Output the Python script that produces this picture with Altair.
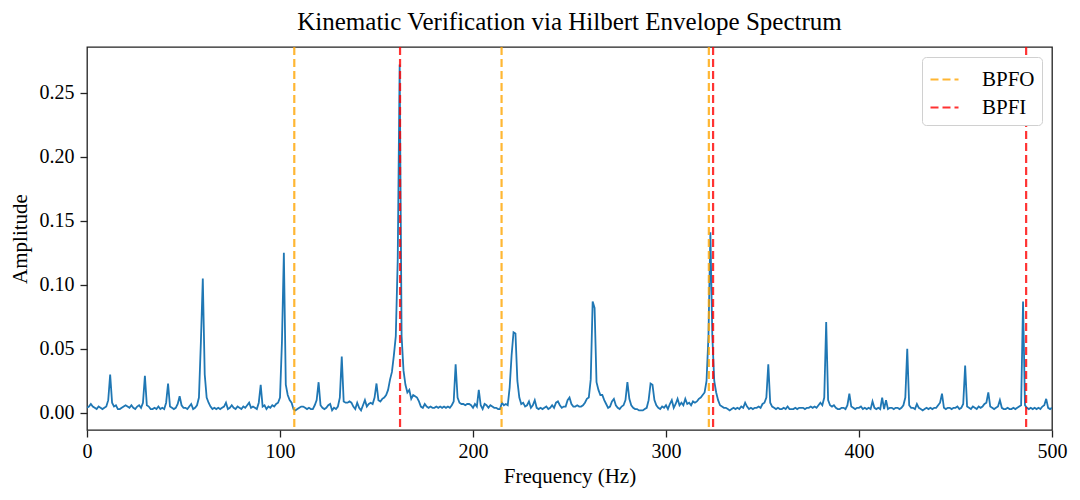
import altair as alt
import pandas as pd

# Envelope spectrum amplitude, 1 Hz bins from 0 to 500 Hz
amp_rows = [
    [0.004, 0.005, 0.007, 0.005, 0.004, 0.003, 0.005, 0.004, 0.003, 0.004],  # 0-9
    [0.005, 0.010, 0.030, 0.008, 0.005, 0.006, 0.003, 0.003, 0.004, 0.005],  # 10
    [0.006, 0.005, 0.004, 0.006, 0.004, 0.003, 0.005, 0.006, 0.004, 0.008],  # 20
    [0.029, 0.006, 0.005, 0.003, 0.003, 0.004, 0.003, 0.005, 0.003, 0.004],  # 30
    [0.003, 0.008, 0.023, 0.005, 0.004, 0.003, 0.004, 0.007, 0.013, 0.006],  # 40
    [0.004, 0.004, 0.003, 0.005, 0.007, 0.003, 0.004, 0.006, 0.012, 0.055],  # 50
    [0.105, 0.030, 0.012, 0.008, 0.005, 0.003, 0.004, 0.003, 0.004, 0.003],  # 60
    [0.004, 0.005, 0.008, 0.003, 0.004, 0.006, 0.004, 0.003, 0.005, 0.004],  # 70
    [0.003, 0.005, 0.004, 0.006, 0.008, 0.004, 0.005, 0.004, 0.003, 0.008],  # 80
    [0.022, 0.005, 0.006, 0.003, 0.005, 0.004, 0.006, 0.005, 0.007, 0.008],  # 90
    [0.012, 0.055, 0.125, 0.022, 0.014, 0.010, 0.008, 0.003, 0.002, 0.003],  # 100
    [0.004, 0.005, 0.005, 0.004, 0.003, 0.004, 0.003, 0.003, 0.006, 0.010],  # 110
    [0.024, 0.006, 0.004, 0.003, 0.004, 0.006, 0.007, 0.002, 0.004, 0.003],  # 120
    [0.005, 0.012, 0.044, 0.009, 0.008, 0.008, 0.009, 0.008, 0.005, 0.003],  # 130
    [0.008, 0.004, 0.002, 0.006, 0.010, 0.005, 0.007, 0.008, 0.007, 0.012],  # 140
    [0.023, 0.010, 0.009, 0.011, 0.012, 0.014, 0.018, 0.026, 0.032, 0.045],  # 150
    [0.060, 0.120, 0.272, 0.060, 0.033, 0.022, 0.016, 0.018, 0.011, 0.014],  # 160
    [0.013, 0.012, 0.009, 0.005, 0.004, 0.007, 0.005, 0.004, 0.005, 0.004],  # 170
    [0.004, 0.005, 0.004, 0.005, 0.004, 0.005, 0.004, 0.005, 0.004, 0.006],  # 180
    [0.009, 0.038, 0.012, 0.008, 0.007, 0.007, 0.006, 0.007, 0.007, 0.006],  # 190
    [0.004, 0.007, 0.005, 0.018, 0.006, 0.003, 0.007, 0.006, 0.004, 0.006],  # 200
    [0.005, 0.004, 0.004, 0.003, 0.003, 0.008, 0.006, 0.007, 0.006, 0.020],  # 210
    [0.045, 0.063, 0.062, 0.025, 0.012, 0.007, 0.008, 0.005, 0.006, 0.009],  # 220
    [0.004, 0.006, 0.010, 0.004, 0.003, 0.004, 0.003, 0.004, 0.005, 0.003],  # 230
    [0.004, 0.006, 0.004, 0.008, 0.009, 0.006, 0.004, 0.005, 0.005, 0.010],  # 240
    [0.012, 0.007, 0.005, 0.005, 0.006, 0.005, 0.005, 0.006, 0.008, 0.011],  # 250
    [0.012, 0.026, 0.087, 0.082, 0.024, 0.018, 0.014, 0.014, 0.010, 0.007],  # 260
    [0.004, 0.005, 0.009, 0.011, 0.006, 0.004, 0.003, 0.005, 0.006, 0.010],  # 270
    [0.024, 0.011, 0.006, 0.004, 0.003, 0.003, 0.002, 0.002, 0.002, 0.003],  # 280
    [0.004, 0.010, 0.023, 0.022, 0.010, 0.006, 0.004, 0.003, 0.005, 0.004],  # 290
    [0.006, 0.003, 0.007, 0.010, 0.004, 0.007, 0.011, 0.006, 0.008, 0.006],  # 300
    [0.011, 0.007, 0.008, 0.006, 0.009, 0.008, 0.009, 0.011, 0.012, 0.014],  # 310
    [0.016, 0.025, 0.060, 0.141, 0.060, 0.025, 0.016, 0.010, 0.006, 0.005],  # 320
    [0.004, 0.004, 0.003, 0.002, 0.003, 0.004, 0.003, 0.004, 0.003, 0.005],  # 330
    [0.004, 0.008, 0.005, 0.003, 0.004, 0.003, 0.004, 0.004, 0.005, 0.004],  # 340
    [0.007, 0.008, 0.012, 0.038, 0.008, 0.005, 0.004, 0.003, 0.004, 0.003],  # 350
    [0.003, 0.004, 0.003, 0.005, 0.003, 0.003, 0.003, 0.004, 0.003, 0.004],  # 360
    [0.004, 0.004, 0.003, 0.004, 0.004, 0.005, 0.004, 0.005, 0.004, 0.006],  # 370
    [0.008, 0.006, 0.012, 0.071, 0.010, 0.006, 0.005, 0.006, 0.004, 0.003],  # 380
    [0.003, 0.004, 0.004, 0.003, 0.006, 0.015, 0.005, 0.004, 0.003, 0.004],  # 390
    [0.004, 0.005, 0.003, 0.004, 0.003, 0.004, 0.003, 0.009, 0.004, 0.003],  # 400
    [0.004, 0.003, 0.012, 0.003, 0.010, 0.003, 0.004, 0.004, 0.003, 0.004],  # 410
    [0.004, 0.003, 0.004, 0.006, 0.012, 0.050, 0.006, 0.004, 0.004, 0.003],  # 420
    [0.007, 0.004, 0.003, 0.002, 0.003, 0.004, 0.003, 0.004, 0.003, 0.004],  # 430
    [0.004, 0.006, 0.008, 0.015, 0.004, 0.003, 0.004, 0.004, 0.003, 0.004],  # 440
    [0.004, 0.005, 0.003, 0.004, 0.007, 0.037, 0.005, 0.004, 0.003, 0.005],  # 450
    [0.004, 0.003, 0.005, 0.004, 0.005, 0.007, 0.008, 0.016, 0.005, 0.004],  # 460
    [0.003, 0.004, 0.005, 0.010, 0.004, 0.003, 0.003, 0.004, 0.003, 0.003],  # 470
    [0.004, 0.003, 0.004, 0.005, 0.006, 0.087, 0.006, 0.004, 0.003, 0.004],  # 480
    [0.003, 0.004, 0.003, 0.004, 0.003, 0.005, 0.006, 0.011, 0.004, 0.003],  # 490
    [0.004],                                                                  # 500
]
amplitude = [v for row in amp_rows for v in row]
frequency = list(range(len(amplitude)))

# Fault frequency markers (Hz)
bpfo_freqs = [107.4, 214.8, 322.2]
bpfi_freqs = [162.2, 324.4, 486.6]

spec = pd.DataFrame({"Frequency": frequency, "Amplitude": amplitude})
marks = pd.DataFrame({
    "Frequency": bpfo_freqs + bpfi_freqs,
    "Fault": ["BPFO"] * len(bpfo_freqs) + ["BPFI"] * len(bpfi_freqs),
})

FONT = "Liberation Serif"

line = alt.Chart(spec).mark_line(color="#1f77b4", strokeWidth=1.8, clip=True).encode(
    x=alt.X("Frequency:Q", scale=alt.Scale(domain=[0, 500], nice=False, zero=False),
            axis=alt.Axis(title="Frequency (Hz)", values=[0, 100, 200, 300, 400, 500],
                          format="d", labelFlush=False, labelPadding=4, titlePadding=4)),
    y=alt.Y("Amplitude:Q", scale=alt.Scale(domain=[-0.0133, 0.2856], nice=False, zero=False),
            axis=alt.Axis(title="Amplitude", values=[0, 0.05, 0.10, 0.15, 0.20, 0.25],
                          format=".2f", labelFlush=False, labelPadding=6, titlePadding=9)),
)

rules = alt.Chart(marks).mark_rule(strokeWidth=2.2, strokeDash=[8, 4], opacity=0.8).encode(
    x="Frequency:Q",
    color=alt.Color("Fault:N",
                    scale=alt.Scale(domain=["BPFO", "BPFI"], range=["#ffa500", "#ff0000"]),
                    legend=alt.Legend(title=None, orient="top-right", offset=10,
                                      symbolType="stroke", symbolSize=784,
                                      symbolStrokeWidth=2.2, symbolDash=[8, 4],
                                      symbolOpacity=0.8,
                                      labelFont=FONT, labelFontSize=21, labelColor="black",
                                      rowPadding=2, padding=7,
                                      fillColor="white", strokeColor="#d0d0d0",
                                      cornerRadius=4, labelOffset=22)),
)

chart = alt.layer(line, rules).properties(
    width=965, height=383,
    title=alt.TitleParams("Kinematic Verification via Hilbert Envelope Spectrum",
                          font=FONT, fontSize=25, fontWeight="normal", color="black",
                          anchor="middle", offset=11),
    padding={"left": 79, "top": 39, "right": 20, "bottom": 70},
    autosize=alt.AutoSizeParams(type="none"),
).configure_view(stroke="#222222", strokeWidth=1.3).configure_axis(
    labelFont=FONT, titleFont=FONT, labelFontSize=20, titleFontSize=21,
    titleFontWeight="normal", labelColor="black", titleColor="black",
    domain=False, grid=False, tickColor="#222222", tickSize=7, tickWidth=1.3,
)

chart.save("out.html", embed_options={"renderer": "svg", "actions": False})
